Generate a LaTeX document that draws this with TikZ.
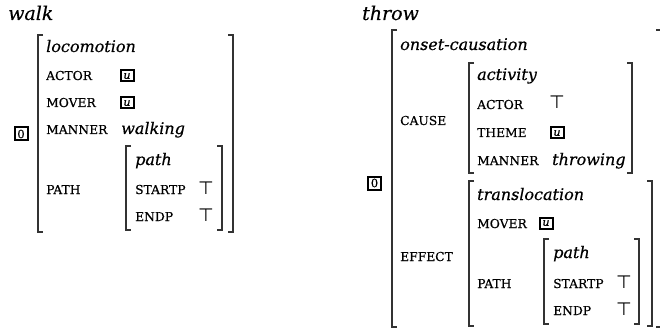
\documentclass[tikz,border=0pt]{standalone}
\usepackage{fontspec}
\setmainfont{DejaVu Serif}[FakeBold=0.4]
\newfontfamily\symfont{DejaVu Sans}
\tikzset{
  x=1pt, y=-1pt,
  val/.style={anchor=base west, inner sep=0pt, font=\fontsize{16}{16}\selectfont\itshape},
  ttl/.style={anchor=base west, inner sep=0pt, font=\fontsize{19}{19}\selectfont\itshape},
  feat/.style={anchor=base west, inner sep=0pt, font=\fontsize{12.3}{12.3}\selectfont},
  topv/.style={anchor=base, inner sep=0pt, font=\symfont\fontsize{18}{18}\selectfont},
  tagbox/.style={draw, line width=2pt, inner sep=0pt, minimum width=13pt, minimum height=13pt, font=\fontsize{11.5}{11.5}\selectfont},
  ubox/.style={draw, line width=2pt, inner sep=0pt, minimum width=13pt, minimum height=11pt, font=\fontsize{11}{11}\selectfont\itshape},
  brk/.style={draw=black!80, line width=1.3pt}
}
\newcommand{\lbrk}[3]{\draw[brk] (#1+5,#2) -- (#1,#2) -- (#1,#3) -- (#1+5,#3);}
\newcommand{\rbrk}[3]{\draw[brk] (#1-5,#2) -- (#1,#2) -- (#1,#3) -- (#1-5,#3);}
\begin{document}
\begin{tikzpicture}
\useasboundingbox (0,0) rectangle (660,331);
% ---------------- walk ----------------
\node[ttl] (wtitle) at (8,20) {walk};
\node[tagbox] (wtag) at (21,134) {0};
\lbrk{38}{35}{232}
\rbrk{233}{35}{232}
\node[val] (wloc) at (46,52) {locomotion};
\node[feat] (wactor) at (46,80) {ACTOR};
\node[ubox] (wactu) at (127,76) {u};
\node[feat] (wmover) at (46,107) {MOVER};
\node[ubox] (wmovu) at (127,103) {u};
\node[feat] (wmanner) at (46,134) {MANNER};
\node[val] (wwalk) at (121,134) {walking};
\node[feat] (wpath) at (46,194) {PATH};
\lbrk{126}{146}{230}
\rbrk{222}{146}{230}
\node[val] (wp) at (135,165) {path};
\node[feat] (wstart) at (135,194) {STARTP};
\node[topv] (wstartv) at (206,194) {⊤};
\node[feat] (wend) at (135,221) {ENDP};
\node[topv] (wendv) at (206,221) {⊤};
% ---------------- throw ----------------
\node[ttl] (ttitle) at (362,20) {throw};
\node[tagbox] (ttag) at (374.5,183) {0};
\lbrk{392}{30}{327}
\rbrk{661}{30}{327}
\node[val] (tonset) at (400,50) {onset-causation};
\node[feat] (tcause) at (400,125) {CAUSE};
\lbrk{469}{63}{173}
\rbrk{632}{63}{173}
\node[val] (tact) at (477,80) {activity};
\node[feat] (tactor) at (477,109) {ACTOR};
\node[topv] (tactorv) at (557,109) {⊤};
\node[feat] (ttheme) at (477,137) {THEME};
\node[ubox] (tthemeu) at (557,133) {u};
\node[feat] (tmanner) at (477,165) {MANNER};
\node[val] (tthrow) at (552,165) {throwing};
\node[feat] (teffect) at (400,261) {EFFECT};
\lbrk{469}{181}{326}
\rbrk{652}{181}{326}
\node[val] (ttrans) at (477,200) {translocation};
\node[feat] (tmover) at (477,228) {MOVER};
\node[ubox] (tmoveru) at (546,223) {u};
\node[feat] (tpath) at (477,288) {PATH};
\lbrk{544}{239}{324}
\rbrk{639}{239}{324}
\node[val] (tp) at (553,258) {path};
\node[feat] (tstart) at (553,288) {STARTP};
\node[topv] (tstartv) at (624,288) {⊤};
\node[feat] (tend) at (553,315) {ENDP};
\node[topv] (tendv) at (624,315) {⊤};
\end{tikzpicture}
\end{document}
